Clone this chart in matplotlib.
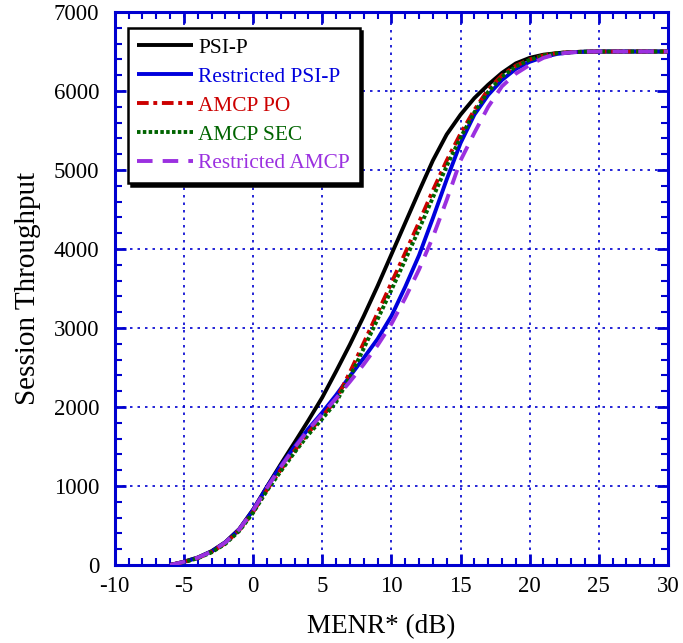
import matplotlib
matplotlib.use("Agg")
import matplotlib.pyplot as plt
from matplotlib.ticker import MultipleLocator

plt.rcParams['font.family'] = ['Liberation Serif', 'DejaVu Serif']

menr_db = [-6, -5, -4, -3, -2, -1, 0, 1, 2, 3, 4, 5, 6, 7, 8, 9, 10, 11, 12,
           13, 14, 15, 16, 17, 18, 19, 20, 21, 22, 23, 24, 25, 30]

psi_p = [0, 42, 95, 175, 290, 455, 700, 990, 1275, 1550, 1830, 2120, 2450,
         2790, 3150, 3530, 3930, 4330, 4730, 5120, 5450, 5700, 5910, 6080,
         6230, 6350, 6420, 6460, 6480, 6492, 6498, 6500, 6500]

restricted_psi_p = [0, 40, 92, 170, 285, 450, 695, 985, 1255, 1500, 1725,
                    1930, 2150, 2390, 2620, 2860, 3150, 3520, 3920, 4390, 4880,
                    5340, 5700, 5950, 6140, 6280, 6370, 6430, 6470, 6490, 6498,
                    6500, 6500]

amcp_po = [0, 38, 88, 165, 275, 440, 670, 950, 1205, 1445, 1675, 1880, 2090,
           2440, 2810, 3190, 3570, 3950, 4340, 4740, 5120, 5460, 5760, 6020,
           6200, 6320, 6400, 6450, 6480, 6492, 6498, 6500, 6500]

amcp_sec = [0, 36, 85, 160, 268, 430, 660, 940, 1185, 1425, 1650, 1850, 2060,
            2380, 2740, 3110, 3480, 3860, 4250, 4650, 5050, 5410, 5730, 5990,
            6180, 6310, 6395, 6450, 6480, 6492, 6498, 6500, 6500]

restricted_amcp = [0, 40, 92, 170, 285, 450, 690, 975, 1240, 1485, 1710,
                   1910, 2110, 2320, 2540, 2780, 3050, 3380, 3740, 4150, 4620,
                   5120, 5470, 5800, 6060, 6220, 6330, 6420, 6470, 6490, 6498,
                   6500, 6500]

series_names = ["PSI-P", "Restricted PSI-P", "AMCP PO", "AMCP SEC", "Restricted AMCP"]
x_ticks = [-10, -5, 0, 5, 10, 15, 20, 25, 30]
y_ticks = [0, 1000, 2000, 3000, 4000, 5000, 6000, 7000]

AXIS_BLUE = "#0000d0"
colors = ["#000000", "#0000dd", "#cc0000", "#006400", "#9b30e0"]
styles = ["-", "-", (0, (3.0, 1.2, 1.0, 1.2)), (0, (0.9, 0.6)), (0, (4.0, 2.6))]

fig = plt.figure(figsize=(6.83, 6.43), dpi=100)
ax = fig.add_axes([0.168, 0.1213, 0.810, 0.860])

all_series = [psi_p, restricted_psi_p, amcp_po, amcp_sec, restricted_amcp]
for i, (name, vals) in enumerate(zip(series_names, all_series)):
    ax.plot(menr_db, vals, color=colors[i], linestyle=styles[i], linewidth=2.8,
            label=name, zorder=3 + i, solid_capstyle="butt",
            solid_joinstyle="round")

ax.set_xlim(-10, 30)
ax.set_ylim(0, 7000)
ax.set_xticks(x_ticks)
ax.set_yticks(y_ticks)
ax.set_xticklabels([str(t) for t in x_ticks])
ax.set_yticklabels([str(t) for t in y_ticks])
ax.xaxis.set_minor_locator(MultipleLocator(1))
ax.yaxis.set_minor_locator(MultipleLocator(200))

ax.tick_params(which="both", direction="in", top=True, right=True,
               color=AXIS_BLUE, labelsize=16.5, labelcolor="black")
ax.tick_params(which="major", length=8, width=2)
ax.tick_params(which="minor", length=5, width=1.5)
ax.tick_params(axis="x", pad=8)
ax.tick_params(axis="y", pad=11)

for sp in ax.spines.values():
    sp.set_color(AXIS_BLUE)
    sp.set_linewidth(2.2)

ax.grid(True, which="major", color=AXIS_BLUE, linestyle=(0, (1.5, 3.0)), linewidth=1.2)
ax.set_axisbelow(True)

ax.set_xlabel("MENR* (dB)", fontsize=19.5)
ax.xaxis.set_label_coords(0.481, -0.088)
ax.set_ylabel("Session Throughput", fontsize=21, labelpad=9)

leg = ax.legend(loc="upper left", bbox_to_anchor=(0.0235, 0.971), fontsize=15.4,
                frameon=True, fancybox=False, handlelength=2.6,
                handletextpad=0.25, borderpad=0.45, labelspacing=0.42,
                borderaxespad=0.0,
                shadow={"color": "black", "alpha": 1.0})
leg.get_frame().set_edgecolor("black")
leg.get_frame().set_linewidth(1.8)
leg.set_zorder(20)
for txt, c in zip(leg.get_texts(), colors):
    txt.set_color(c)

fig.savefig("out.png", dpi=100)
